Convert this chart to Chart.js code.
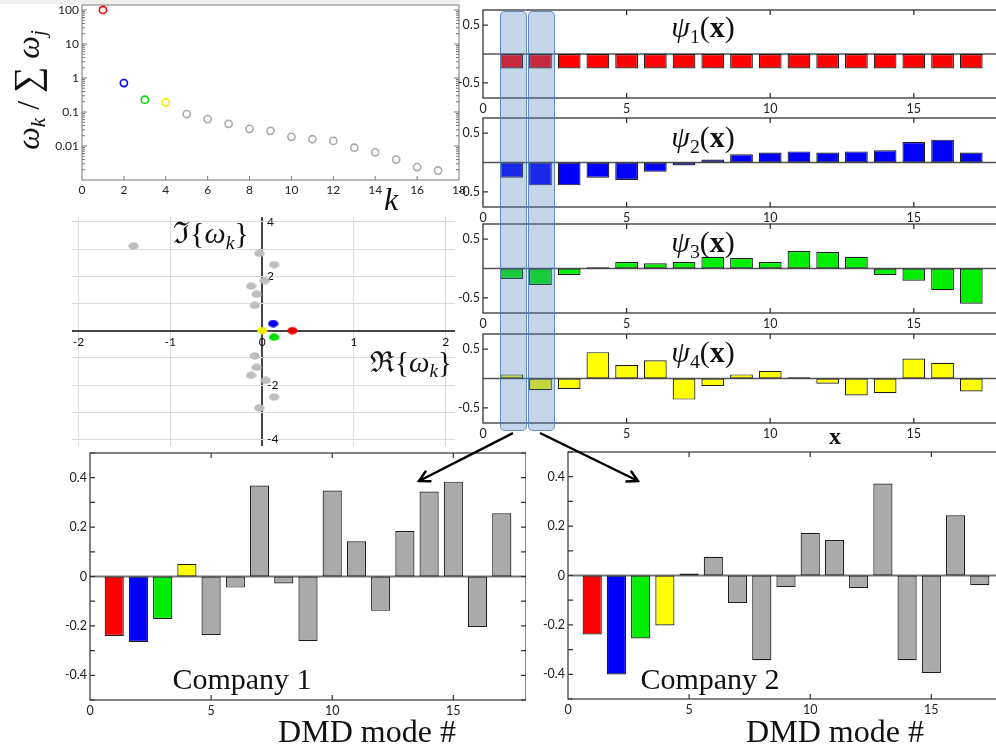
<!DOCTYPE html>
<html><head><meta charset="utf-8">
<script src="https://cdn.jsdelivr.net/npm/chart.js@4/dist/chart.umd.min.js"></script>
<style>
html,body{margin:0;padding:0;background:#fff;}
body{width:996px;height:751px;overflow:hidden;position:relative;}
canvas{position:absolute;}
.t{position:absolute;font-family:"Liberation Serif","DejaVu Serif",serif;color:#111;white-space:nowrap;line-height:1;transform:translate(-50%,-50%);}
.t sub{font-size:0.66em;vertical-align:-0.3em;line-height:0;}
.band{position:absolute;background:rgba(79,129,189,0.32);border:1.5px solid rgba(79,129,189,0.85);border-radius:5px;box-sizing:border-box;}
</style></head><body>
<div style="position:absolute;left:0;top:0;width:460px;height:4px;background:#efefef"></div>
<canvas id="cEnergy"></canvas>
<canvas id="cEig"></canvas>
<canvas id="cPsi1"></canvas>
<canvas id="cPsi2"></canvas>
<canvas id="cPsi3"></canvas>
<canvas id="cPsi4"></canvas>
<canvas id="cComp1"></canvas>
<canvas id="cComp2"></canvas>

<div class="band" style="left:500px;top:11px;width:27px;height:420px"></div>
<div class="band" style="left:528px;top:11px;width:27px;height:420px"></div>

<svg width="996" height="751" style="position:absolute;left:0;top:0;pointer-events:none">
<defs>
<marker id="ah" markerWidth="14" markerHeight="14" refX="12" refY="7" orient="auto" markerUnits="userSpaceOnUse">
<path d="M1,1 L12,7 L1,13" fill="none" stroke="#000" stroke-width="2.5" stroke-linejoin="miter"/>
</marker>
</defs>
<line x1="513" y1="433" x2="419" y2="481" stroke="#000" stroke-width="2.5" marker-end="url(#ah)"/>
<line x1="540" y1="433" x2="638" y2="481" stroke="#000" stroke-width="2.5" marker-end="url(#ah)"/>
</svg>

<div class="t" style="left:27px;top:90px;font-size:32px;transform:translate(-50%,-50%) rotate(-90deg);"><i>ω</i><sub><i>k</i></sub> / <span style="font-size:1.15em">∑</span> <i>ω</i><sub><i>j</i></sub></div>
<div class="t" style="left:391px;top:199px;font-size:32px;"><i>k</i></div>
<div class="t" style="left:211px;top:233px;font-size:30px;">ℑ{<i>ω</i><sub><i>k</i></sub>}</div>
<div class="t" style="left:411px;top:362px;font-size:29px;">ℜ{<i>ω</i><sub><i>k</i></sub>}</div>
<div class="t" style="left:703px;top:27px;font-size:30px;"><i>ψ</i><sub>1</sub>(<b>x</b>)</div>
<div class="t" style="left:703px;top:137px;font-size:30px;"><i>ψ</i><sub>2</sub>(<b>x</b>)</div>
<div class="t" style="left:703px;top:242px;font-size:30px;"><i>ψ</i><sub>3</sub>(<b>x</b>)</div>
<div class="t" style="left:703px;top:352px;font-size:30px;"><i>ψ</i><sub>4</sub>(<b>x</b>)</div>
<div class="t" style="left:835px;top:436px;font-size:24px;font-weight:bold;">x</div>
<div class="t" style="left:242px;top:679px;font-size:30px;">Company 1</div>
<div class="t" style="left:710px;top:679px;font-size:30px;">Company 2</div>
<div class="t" style="left:367px;top:731px;font-size:32px;">DMD mode #</div>
<div class="t" style="left:835px;top:731px;font-size:32px;">DMD mode #</div>

<script>
// ---------------- DATA ----------------
const modeNumbers = [1,2,3,4,5,6,7,8,9,10,11,12,13,14,15,16,17];
const energyRatio = [100,0.71,0.23,0.19,0.087,0.062,0.045,0.032,0.028,0.0186,0.0158,0.0141,0.0089,0.0065,0.0040,0.0024,0.0019];
const eigReal = [0.33,0.12,0.13,0.0,-1.40,-0.03,0.13,0.03,-0.12,-0.06,-0.08,-0.08,-0.06,-0.12,0.04,0.13,-0.03];
const eigImag = [0,0.26,-0.24,0,3.11,2.84,2.43,1.84,1.64,1.34,0.93,-0.93,-1.35,-1.64,-1.83,-2.44,-2.84];
const psi1 = [-0.25,-0.25,-0.25,-0.25,-0.25,-0.25,-0.25,-0.25,-0.25,-0.25,-0.25,-0.25,-0.25,-0.25,-0.25,-0.25,-0.25];
const psi2 = [-0.26,-0.39,-0.39,-0.26,-0.30,-0.16,-0.05,0.05,0.14,0.17,0.19,0.17,0.19,0.21,0.35,0.39,0.17];
const psi3 = [-0.18,-0.28,-0.11,0.02,0.11,0.09,0.11,0.20,0.18,0.11,0.30,0.28,0.20,-0.11,-0.21,-0.37,-0.60];
const psi4 = [0.07,-0.20,-0.18,0.45,0.23,0.31,-0.36,-0.13,0.07,0.13,0.02,-0.09,-0.29,-0.25,0.34,0.27,-0.22];
const company1 = [-0.241,-0.265,-0.172,0.051,-0.237,-0.045,0.368,-0.028,-0.261,0.348,0.143,-0.139,0.184,0.344,0.384,-0.204,0.256];
const company2 = [-0.239,-0.401,-0.255,-0.202,0.008,0.076,-0.111,-0.343,-0.047,0.173,0.144,-0.051,0.372,-0.343,-0.395,0.244,-0.039];

// tick values / labels
const kTicks = [0,2,4,6,8,10,12,14,16,18];
const logTicks = [100,10,1,0.1,0.01];
const logLabels = ['100','10','1','0.1','0.01'];
const reTicks = [-2,-1,0,1,2];
const imGrid = [-4,-3,-2,-1,0,1,2,3,4];
const imLabeled = [-4,-2,2,4];
const psiXTicks = [0,5,10,15];
const psiYTicks = [-0.5,0.5];
const compYTicks = [-0.4,-0.2,0,0.2,0.4];
const compYMinor = [-0.5,-0.4,-0.3,-0.2,-0.1,0,0.1,0.2,0.3,0.4,0.5];

// ---------------- STYLE ----------------
const RED='#ff0000', BLUE='#0000ff', GREEN='#00ee00', YELLOW='#ffff00', GRAY='#aaaaaa';
const modeColors = modeNumbers.map((m,i)=>[RED,BLUE,GREEN,YELLOW][i] || GRAY);
const ringColors = modeNumbers.map((m,i)=>[RED,BLUE,'#00dd00','#eeee00'][i] || '#aaaaaa');
const eigColors = eigReal.map((v,i)=>['#ee0000','#0000ee','#00dd00','#eeee00'][i] || '#bdbdbd');

Chart.defaults.font.family = 'Lato, "Open Sans", sans-serif';
Chart.defaults.font.size = 12;
Chart.defaults.color = '#222';
Chart.defaults.animation = false;

const frameCfg = {};
const framePlugin = {
  id:'frameDraw',
  beforeDatasetsDraw(chart){
    const o = frameCfg[chart.canvas.id]; if(!o || !o.zero) return;
    const {ctx, chartArea:a} = chart; const y = chart.scales.y.getPixelForValue(0);
    ctx.save(); ctx.strokeStyle=o.zeroColor; ctx.lineWidth=o.zeroWidth;
    ctx.beginPath(); ctx.moveTo(a.left,y); ctx.lineTo(a.right,y); ctx.stroke(); ctx.restore();
  },
  afterDatasetsDraw(chart){
    const o = frameCfg[chart.canvas.id]; if(!o) return;
    const {ctx, chartArea:a, scales} = chart;
    ctx.save(); ctx.strokeStyle=o.color; ctx.lineWidth=o.width;
    ctx.beginPath();
    (o.xTicks||[]).forEach(v=>{
      const x = scales.x.getPixelForValue(v);
      if(o.top){ctx.moveTo(x,a.top);ctx.lineTo(x,a.top+o.len);}
      if(o.bottom){ctx.moveTo(x,a.bottom);ctx.lineTo(x,a.bottom-o.len);}
    });
    (o.yTicks||[]).forEach(t=>{
      const v = (typeof t==='object')?t.v:t, len=(typeof t==='object')?t.len:o.len;
      const y = scales.y.getPixelForValue(v);
      if(o.left){ctx.moveTo(a.left,y);ctx.lineTo(a.left+len,y);}
      if(o.right){ctx.moveTo(a.right,y);ctx.lineTo(a.right-len,y);}
    });
    ctx.stroke();
    ctx.strokeRect(a.left,a.top,a.right-a.left,a.bottom-a.top);
    ctx.restore();
  }
};

function setupCanvas(id, box, yw, xh, padTop, padRight){
  const c = document.getElementById(id);
  const w = Math.round(box.R-box.L+yw+padRight), h = Math.round(box.B-box.T+padTop+xh);
  c.width=w; c.height=h; c.style.width=w+'px'; c.style.height=h+'px';
  c.style.left=(box.L-yw)+'px'; c.style.top=(box.T-padTop)+'px';
  return c;
}
const setTicks = arr => (s => { s.ticks = arr.map(v=>({value:v})); });
const noPad = s => { s.paddingLeft=0; s.paddingRight=0; s.paddingTop=0; s.paddingBottom=0; };

// ---- Energy spectrum (log) ----
(function(){
  const box={L:82,T:5,R:459,B:180};
  const c = setupCanvas('cEnergy', box, 82, 20, 5, 11);
  const minor=[];
  [0.001,0.01,0.1,1,10].forEach(d=>{[2,3,4,5,6,7,8,9].forEach(m=>minor.push({v:d*m,len:3}));});
  frameCfg.cEnergy = {color:'#777',width:1,len:4,bottom:true,top:false,left:true,right:true,
    xTicks:kTicks.slice(1,-1), yTicks: logTicks.map(v=>({v,len:5})).concat(minor)};
  new Chart(c,{
    type:'scatter',
    data:{datasets:[{data:modeNumbers.map((k,i)=>({x:k,y:energyRatio[i]})),
      pointRadius:3.6,pointBorderWidth:1.6,pointBackgroundColor:'rgba(0,0,0,0)',pointBorderColor:ringColors,clip:false}]},
    options:{responsive:false,animation:false,devicePixelRatio:1,
      layout:{padding:{top:5,right:11,left:0,bottom:0},autoPadding:false},
      plugins:{legend:{display:false},tooltip:{enabled:false}},
      scales:{
        x:{type:'linear',min:0,max:18,afterBuildTicks:setTicks(kTicks),afterFit:s=>{s.height=20;noPad(s);},
          grid:{display:false,drawTicks:false},border:{display:false},
          ticks:{padding:3,maxRotation:0,autoSkip:false,font:{size:12},color:'#222'}},
        y:{type:'logarithmic',min:0.001,max:140,afterBuildTicks:setTicks(logTicks),afterFit:s=>{s.width=82;noPad(s);},
          grid:{display:false,drawTicks:false},border:{display:false},
          ticks:{padding:3,autoSkip:false,font:{size:12},color:'#222',callback:v=>{const i=logTicks.indexOf(v);return i>=0?logLabels[i]:'';}}}
      }},
    plugins:[framePlugin]
  });
})();

// ---- Eigenvalues in complex plane ----
(function(){
  const box={L:72,T:217,R:455,B:446};
  const xMin=-2.07, xMax=2.1, yMin=-4.24, yMax=4.18;
  const c = setupCanvas('cEig', box, 0, 0, 0, 0);
  const zeroOffset = (0-xMin)/(xMax-xMin)*(box.R-box.L);
  function ell(col){const e=document.createElement('canvas');e.width=11;e.height=8;const g=e.getContext('2d');
    g.fillStyle=col;g.beginPath();g.ellipse(5.5,4,5.2,3.7,0,0,Math.PI*2);g.fill();return e;}
  const imgs = eigColors.map(ell);
  new Chart(c,{
    type:'scatter',
    data:{datasets:[{data:eigReal.map((r,i)=>({x:r,y:eigImag[i]})),pointStyle:ctx=>imgs[ctx.dataIndex],pointRadius:5}]},
    options:{responsive:false,animation:false,devicePixelRatio:1,
      layout:{padding:0,autoPadding:false},
      plugins:{legend:{display:false},tooltip:{enabled:false}},
      scales:{
        x:{type:'linear',min:xMin,max:xMax,position:{y:0},afterBuildTicks:setTicks(reTicks),afterFit:noPad,
          grid:{drawTicks:false,color:ctx=>ctx.tick&&ctx.tick.value===0?'#444':'#dcdcdc',lineWidth:ctx=>ctx.tick&&ctx.tick.value===0?2:1},
          border:{display:false},ticks:{padding:4,maxRotation:0,autoSkip:false,font:{size:12},color:'#111'}},
        y:{type:'linear',min:yMin,max:yMax,position:'left',afterBuildTicks:setTicks(imGrid),
          afterFit:s=>{s.width=0;noPad(s);},
          grid:{drawTicks:false,color:ctx=>ctx.tick&&ctx.tick.value===0?'#444':'#dcdcdc',lineWidth:ctx=>ctx.tick&&ctx.tick.value===0?2:1},
          border:{display:false},
          ticks:{mirror:true,crossAlign:'near',padding:zeroOffset+5,autoSkip:false,font:{size:12},color:'#111',
            callback:v=>imLabeled.includes(v)?String(v):''}}
      }}
  });
})();

// ---- bar helper ----
function barChart(id, box, yw, xh, values, colors, yMax, xTicks, yLabelTicks, fcfg){
  const c = setupCanvas(id, box, yw, xh, 2, 0);
  frameCfg[id] = fcfg;
  new Chart(c,{
    type:'bar',
    data:{datasets:[{data:modeNumbers.map((m,i)=>({x:m,y:values[i]})),backgroundColor:colors,
      borderColor:'#1e1e1e',borderWidth:1.2,borderSkipped:false,barPercentage:0.88,categoryPercentage:0.9}]},
    options:{responsive:false,animation:false,devicePixelRatio:1,
      layout:{padding:{top:2,right:0,left:0,bottom:0},autoPadding:false},
      plugins:{legend:{display:false},tooltip:{enabled:false}},
      scales:{
        x:{type:'linear',min:0,max:18,offset:false,afterBuildTicks:setTicks(xTicks),afterFit:s=>{s.height=xh;noPad(s);},
          grid:{display:false,drawTicks:false},border:{display:false},
          ticks:{padding:3,maxRotation:0,autoSkip:false,font:{size:12.5},color:'#222'}},
        y:{type:'linear',min:-yMax,max:yMax,afterBuildTicks:setTicks(yLabelTicks),afterFit:s=>{s.width=yw;noPad(s);},
          grid:{display:false,drawTicks:false},border:{display:false},
          ticks:{padding:3,autoSkip:false,font:{size:12.5},color:'#222',callback:v=>String(v)}}
      }},
    plugins:[framePlugin]
  });
}

const psiFrame = () => ({color:'#333',width:1.3,len:5,top:true,bottom:true,left:true,right:false,
  xTicks:[5,10,15],yTicks:psiYTicks,zero:true,zeroColor:'#555',zeroWidth:1.5});
const psiBoxes = [{T:10,B:98},{T:118,B:207},{T:224,B:313},{T:334,B:423}];
const psiData = [psi1,psi2,psi3,psi4];
const psiColors = [RED,BLUE,GREEN,YELLOW];
psiBoxes.forEach((b,i)=>{
  barChart('cPsi'+(i+1),{L:483,R:1000,T:b.T,B:b.B},40,16,psiData[i],psiColors[i],0.76,psiXTicks,psiYTicks,psiFrame());
});

const compFrame = () => ({color:'#333',width:1.2,len:5,top:true,bottom:true,left:true,right:true,
  xTicks:[5,10,15],yTicks:compYMinor,zero:true,zeroColor:'#777',zeroWidth:2});
barChart('cComp1',{L:90,R:526,T:453,B:700},40,18,company1,modeColors,0.5,psiXTicks,compYTicks,compFrame());
barChart('cComp2',{L:568,R:1004,T:452,B:699},40,18,company2,modeColors,0.5,psiXTicks,compYTicks,compFrame());
</script>
</body></html>
